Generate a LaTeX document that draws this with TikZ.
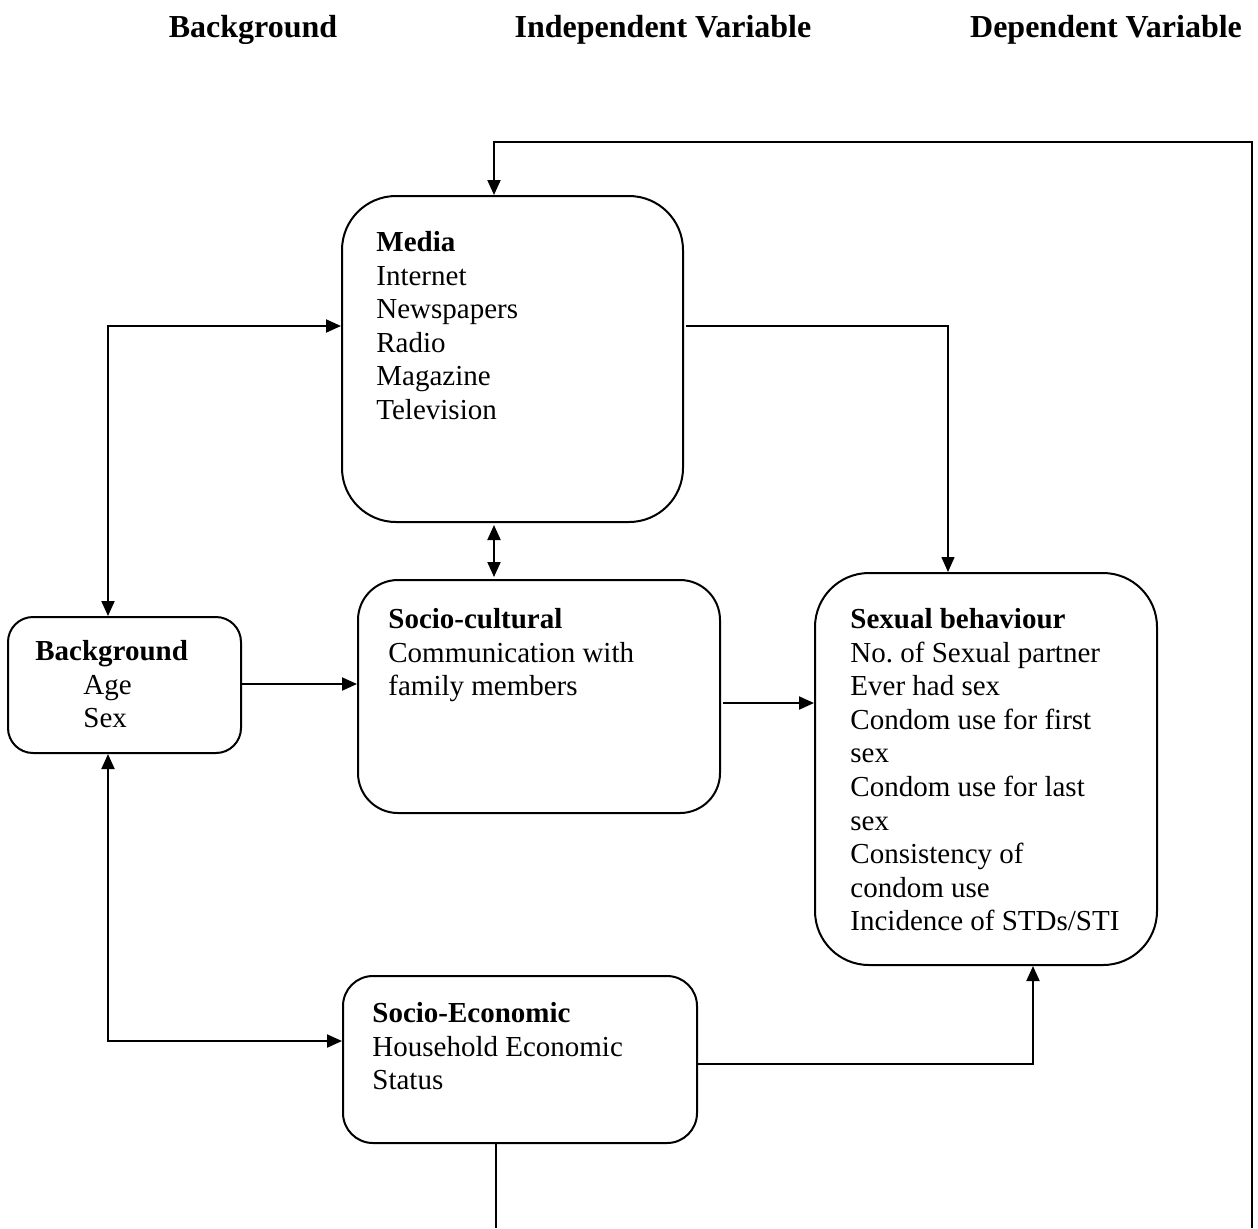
\documentclass[tikz,border=0pt]{standalone}
\usepackage{fontspec}
\setmainfont{Liberation Serif}
\usetikzlibrary{arrows.meta}
\begin{document}
\begin{tikzpicture}[x=0.5pt,y=-0.5pt,
  box/.style={draw,line width=1pt,rectangle,inner sep=0pt},
  txt/.style={inner sep=0pt,align=left,anchor=north west,font=\fontsize{14.5}{16.8}\selectfont},
  head/.style={inner sep=0pt,anchor=base,font=\fontsize{16}{18}\selectfont\bfseries},
  conn/.style={line width=1pt},
  arr/.style={conn,-{Triangle[length=7.5pt,width=6.5pt]}},
  darr/.style={conn,{Triangle[length=7.5pt,width=6.5pt]}-{Triangle[length=7.5pt,width=6.5pt]}}]
\useasboundingbox (0,0) rectangle (1258,1228);
% headings
\node[head] (h1) at (253,37) {Background};
\node[head] (h2) at (663,37) {Independent Variable};
\node[head] (h3) at (1106,37) {Dependent Variable};
% boxes
\node[box,rounded corners=27pt,minimum width=170.5pt,minimum height=163pt] (media) at (512.5,359) {};
\node[box,rounded corners=20pt,minimum width=181pt,minimum height=116.5pt] (soc) at (539,696.5) {};
\node[box,rounded corners=12.5pt,minimum width=116.5pt,minimum height=68pt] (bg) at (124.5,685) {};
\node[box,rounded corners=27pt,minimum width=171pt,minimum height=196pt] (sex) at (986,769) {};
\node[box,rounded corners=15pt,minimum width=177pt,minimum height=83.5pt] (eco) at (520,1059.5) {};
% texts
\node[txt] (mediaT) at (376,231) {\textbf{Media}\\Internet\\Newspapers\\Radio\\Magazine\\Television};
\node[txt] (socT) at (388,608) {\textbf{Socio-cultural}\\Communication with\\family members};
\node[txt] (bgT) at (35,640) {\textbf{Background}\\\hspace*{24pt}Age\\\hspace*{24pt}Sex};
\node[txt] (sexT) at (850,608) {\textbf{Sexual behaviour}\\No.\ of Sexual partner\\Ever had sex\\Condom use for first\\sex\\Condom use for last\\sex\\Consistency of\\condom use\\Incidence of STDs/STI};
\node[txt] (ecoT) at (372,1002) {\textbf{Socio-Economic}\\Household Economic\\Status};
% coordinates
\coordinate (fbR) at (1252,1228);
\coordinate (fbT) at (494,142);
\coordinate (ecoB) at (496,1228);
\coordinate (bmC) at (108,326);
\coordinate (mx) at (494,0);
\coordinate (msC) at (948,326);
\coordinate (bsY) at (0,684);
\coordinate (ssY) at (0,703);
\coordinate (beC) at (108,1041);
\coordinate (esC) at (1033,1064);
% connectors
\draw[arr] (fbR) |- (fbT) -- (fbT |- media.north);
\draw[conn,line width=0.7pt] (ecoB |- eco.south) -- (ecoB);
\draw[darr] (bmC |- bg.north) -- (bmC) -- (bmC -| media.west);
\draw[darr] ([yshift=-1pt]mx |- media.south) -- ([yshift=1pt]mx |- soc.north);
\draw[arr,line width=0.7pt] ([xshift=1pt]msC -| media.east) -- (msC) -- (msC |- sex.north);
\draw[arr] (bsY -| bg.east) -- (bsY -| soc.west);
\draw[arr] ([xshift=1pt]ssY -| soc.east) -- (ssY -| sex.west);
\draw[darr] (beC |- bg.south) -- (beC) -- (beC -| eco.west);
\draw[arr] (esC -| eco.east) -- (esC) -- (esC |- sex.south);
\end{tikzpicture}
\end{document}
